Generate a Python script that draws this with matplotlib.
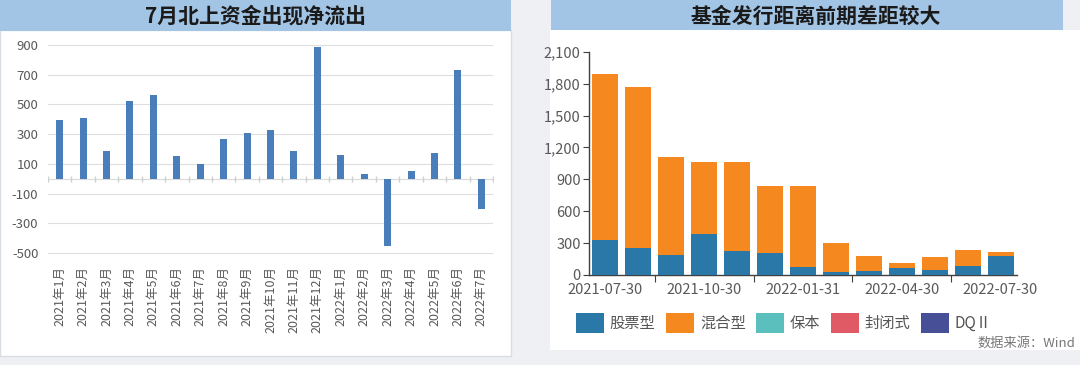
import matplotlib
matplotlib.use("Agg")
import matplotlib.pyplot as plt
from matplotlib.patches import Rectangle, Patch
import numpy as np

plt.rcParams['font.family'] = ['Noto Sans CJK SC', 'DejaVu Sans']

# ---------------- data ----------------
left_title = "7月北上资金出现净流出"
months = ["2021年1月", "2021年2月", "2021年3月", "2021年4月", "2021年5月", "2021年6月",
          "2021年7月", "2021年8月", "2021年9月", "2021年10月", "2021年11月", "2021年12月",
          "2022年1月", "2022年2月", "2022年3月", "2022年4月", "2022年5月", "2022年6月",
          "2022年7月"]
northbound = [395, 410, 185, 520, 560, 155, 100, 265, 305, 325, 185, 885,
              160, 35, -450, 55, 170, 730, -205]
left_yticks = [900, 700, 500, 300, 100, -100, -300, -500]

right_title = "基金发行距离前期差距较大"
periods = ["2021-07-30", "2021-08-31", "2021-09-30", "2021-10-30", "2021-11-30",
           "2021-12-31", "2022-01-31", "2022-02-28", "2022-03-31", "2022-04-30",
           "2022-05-31", "2022-06-30", "2022-07-30"]
stock_type = [325, 255, 190, 385, 225, 205, 75, 25, 40, 62, 47, 85, 182]
mixed_total = [1890, 1770, 1110, 1065, 1063, 840, 838, 302, 177, 116, 172, 234, 213]
mixed_type = [t - s for t, s in zip(mixed_total, stock_type)]
right_yticks = [0, 300, 600, 900, 1200, 1500, 1800, 2100]
legend_names = ["股票型", "混合型", "保本", "封闭式", "DQⅡ"]
legend_colors = ["#2a78a8", "#f5891f", "#5bbfbd", "#df5a64", "#474f96"]
source_text = "数据来源：Wind"

# ---------------- figure ----------------
W, H = 1080, 365
fig = plt.figure(figsize=(W / 100, H / 100), dpi=100)
fig.patch.set_facecolor("#eef0f3")

def fx(px):
    return px / W

def fy(py):
    return 1 - py / H

# panels
fig.patches.append(Rectangle((fx(0), fy(356)), fx(511), fy(30) - fy(356),
                             transform=fig.transFigure, facecolor="white",
                             edgecolor="#d8dde3", lw=1, zorder=-2))
fig.patches.append(Rectangle((fx(550), fy(350)), fx(530), fy(30) - fy(350),
                             transform=fig.transFigure, facecolor="white",
                             edgecolor="none", lw=0, zorder=-2))
# title bars
title_blue = "#a3c5e5"
fig.patches.append(Rectangle((fx(0), fy(31)), fx(511), fy(0) - fy(31),
                             transform=fig.transFigure, facecolor=title_blue,
                             edgecolor="none", zorder=-1))
fig.patches.append(Rectangle((fx(551), fy(30)), fx(512), fy(0) - fy(30),
                             transform=fig.transFigure, facecolor=title_blue,
                             edgecolor="none", zorder=-1))
fig.text(fx(255), fy(16), left_title, ha="center", va="center",
         fontsize=15, fontweight="bold", color="#1a1a1a")
fig.text(fx(816), fy(16), right_title, ha="center", va="center",
         fontsize=15, fontweight="bold", color="#1a1a1a")

# ---------------- left chart ----------------
ylo, yhi = -530, 930
ax1 = fig.add_axes([fx(48), fy(257.5), fx(493 - 48), fy(40.5) - fy(257.5)])
ax1.set_zorder(2)
ax1.set_facecolor("none")
x1 = np.arange(len(months))
ax1.bar(x1, northbound, width=0.3, color="#4a7ebb", zorder=3)
ax1.set_xlim(-0.5, len(months) - 0.5)
ax1.set_ylim(ylo, yhi)
ax1.set_yticks(left_yticks)
ax1.set_yticklabels([str(v) for v in left_yticks])
ax1.tick_params(axis="y", length=0, labelsize=9.5, labelcolor="#595959", pad=7)
ax1.grid(axis="y", color="#dedede", lw=0.8, zorder=0)
ax1.set_xticks(x1)
ax1.set_xticklabels(months, rotation=90, fontsize=9, color="#595959")
ax1.tick_params(axis="x", length=0, pad=6)
for s in ax1.spines.values():
    s.set_visible(False)
ax1.axhline(0, color="#d9d9d9", lw=0.8, zorder=1)
bounds = np.arange(len(months) + 1) - 0.5
ax1.plot(bounds, np.zeros_like(bounds), ls="", marker="|", ms=4,
         color="#cfcfcf", zorder=1)

# ---------------- right chart ----------------
ax2 = fig.add_axes([fx(589), fy(275), fx(1017 - 589), fy(51.7) - fy(275)])
ax2.set_zorder(2)
ax2.set_facecolor("none")
x2 = np.arange(len(periods))
ax2.bar(x2, stock_type, width=0.79, color=legend_colors[0], zorder=3)
ax2.bar(x2, mixed_type, width=0.79, bottom=stock_type, color=legend_colors[1],
        zorder=3)
ax2.set_xlim(-0.5, len(periods) - 0.5)
ax2.set_ylim(0, 2100)
ax2.set_yticks(right_yticks)
ax2.set_yticklabels([f"{v:,}" for v in right_yticks])
ax2.tick_params(axis="y", length=4, width=0.8, color="#404040",
                labelsize=10.5, labelcolor="#595959", pad=2)
lab_idx = list(range(0, len(periods), 3))
ax2.set_xticks(lab_idx)
ax2.set_xticklabels([periods[i] for i in lab_idx], fontsize=10.5, color="#595959")
ax2.tick_params(axis="x", length=0, pad=6)
ax2.set_xticks([i + 1.5 for i in lab_idx[:-1]], minor=True)
ax2.tick_params(axis="x", which="minor", length=5, width=0.8, color="#404040")
for k in ["top", "right"]:
    ax2.spines[k].set_visible(False)
for k in ["left", "bottom"]:
    ax2.spines[k].set_color("#404040")
    ax2.spines[k].set_linewidth(1.0)

handles = [Patch(facecolor=c, edgecolor="none") for c in legend_colors]
fig.legend(handles, legend_names, loc="center", bbox_to_anchor=(fx(784), fy(323)),
           ncol=5, frameon=False, fontsize=11, handlelength=1.8, handleheight=1.6,
           handletextpad=0.4, columnspacing=0.7, labelcolor="#555555")

fig.text(fx(1075), fy(343), source_text, ha="right", va="center",
         fontsize=9.5, color="#777777")

fig.savefig("out.png", dpi=100, facecolor=fig.get_facecolor())
